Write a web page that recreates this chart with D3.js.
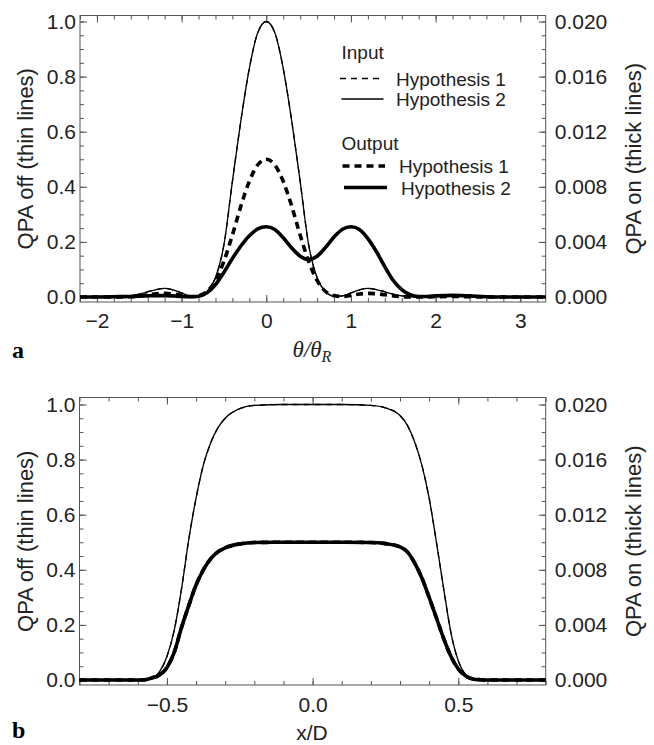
<!DOCTYPE html>
<html>
<head>
<meta charset="utf-8">
<script src="https://cdn.jsdelivr.net/npm/d3@7"></script>
<style>
body { margin: 0; background: #fff; }
text { font-family: "Liberation Sans", Arial, sans-serif; fill: #222; }
</style>
</head>
<body>
<div id="wrapper"></div>
<script>
// panel a : theta / theta_R
const thetaValues = [-2.2,-2.0,-1.8,-1.6,-1.5,-1.4,-1.3,-1.2,-1.1,-1.0,-0.9,-0.8,-0.7,-0.6,-0.5,-0.4,-0.3,-0.2,-0.1,0,
    0.1,0.2,0.3,0.4,0.5,0.6,0.7,0.8,0.9,1.0,1.1,1.2,1.3,1.4,1.5,1.6,1.7,1.8,1.9,2.0,2.2,2.4,2.6,2.8,3.0,3.3];
// QPA off (left axis)
const inputHyp2A = [0,0.001,0.001,0.004,0.010,0.019,0.027,0.031,0.026,0.015,0.004,0.003,0.02,0.07,0.19,0.42,0.64,0.83,0.96,1.0,
    0.96,0.83,0.64,0.42,0.19,0.07,0.02,0.003,0.004,0.015,0.026,0.031,0.027,0.019,0.010,0.004,0.001,0.001,0.002,0.003,0.004,0.003,0.001,0,0,0];
const inputHyp1A = inputHyp2A.slice(); // drawn on top of each other in the figure
// QPA on (right axis)
const outputHyp1A = [0,0,0,0.00002,0.00008,0.00016,0.00024,0.00026,0.00022,0.00012,0.00004,0.0001,0.0004,0.0012,0.0026,0.0045,0.0066,0.0084,0.0096,0.0100,
    0.0096,0.0084,0.0066,0.0045,0.0026,0.0012,0.0004,0.0001,0.00004,0.00012,0.00022,0.00026,0.00024,0.00016,0.00008,0.00002,0,0,0.00001,0.00002,0.00004,0.00002,0,0,0,0];
const outputHyp2A = [0,0,0.00002,0.00004,0.00006,0.00008,0.0001,0.0001,0.00008,0.00004,0.00002,0.00006,0.0003,0.0009,0.0018,0.0028,0.0037,0.00444,0.00494,0.0051,
    0.0049,0.0043,0.00356,0.00296,0.00272,0.00296,0.0036,0.00436,0.00492,0.0051,0.0049,0.00424,0.0033,0.0022,0.0012,0.00054,0.00016,0.00004,0.00004,0.00008,0.00012,0.00008,0.00002,0,0,0];

// panel b : x / D
const xdValues = [-0.8,-0.7,-0.6,-0.575,-0.55,-0.525,-0.5,-0.475,-0.45,-0.425,-0.4,-0.375,-0.35,-0.325,-0.3,-0.25,-0.2,-0.1,0,
    0.1,0.2,0.25,0.3,0.325,0.35,0.375,0.4,0.425,0.45,0.475,0.5,0.525,0.55,0.575,0.6,0.7,0.8];
const inputHyp2B = [0,0,0,0.001,0.006,0.03,0.085,0.18,0.33,0.51,0.66,0.78,0.86,0.915,0.95,0.985,0.997,1.0,1.0,
    1.0,0.997,0.988,0.96,0.925,0.865,0.78,0.66,0.50,0.33,0.17,0.07,0.02,0.005,0.001,0,0,0];
const inputHyp1B = inputHyp2B.slice();
const outputHyp2B = [0,0,0,0.00002,0.00016,0.00036,0.0009,0.002,0.0038,0.0054,0.0069,0.008,0.0088,0.0093,0.0096,0.00988,0.00998,0.01,0.01,
    0.01,0.00998,0.0099,0.00966,0.0093,0.0085,0.0074,0.006,0.0045,0.003,0.0017,0.0008,0.0003,0.00008,0.00002,0,0,0];
const outputHyp1B = outputHyp2B.slice();

const thetaTicks = [-2,-1,0,1,2,3];
const xdTicks = [-0.5,0,0.5];
const leftTicks = [0,0.2,0.4,0.6,0.8,1.0];
const rightTicks = [0,0.004,0.008,0.012,0.016,0.020];
const legendHeads = ["Input","Output"];
const legendNames = ["Hypothesis 1","Hypothesis 2"];

const thin = 1.3, thick = 3.6;
const styles = {
    inH1: {w: thin, dash: "6,5"},
    inH2: {w: thin, dash: null},
    outH1: {w: thick, dash: "7,5"},
    outH2: {w: thick, dash: null}
};

const svg = d3.select("#wrapper")
    .append("svg")
    .attr("width", 654)
    .attr("height", 745);

function drawPanel(p) {
    const g = svg.append("g");
    const x = d3.scaleLinear().domain(p.xDomain).range([p.left, p.right]);
    const yL = d3.scaleLinear().domain([0, 1]).range([p.y0, p.y1]);
    const yR = d3.scaleLinear().domain([0, 0.02]).range([p.y0, p.y1]);

    function styleAxis(a, size) {
        a.select(".domain").remove();
        a.attr("color", "#555").attr("font-size", size)
            .attr("font-family", "'Liberation Sans', Arial, sans-serif");
        a.selectAll(".tick line").attr("stroke-width", 1);
    }

    // minor ticks first
    const minorX = p.xMinor;
    const minorY = d3.range(0, 1.0001, 0.05).map(v => +v.toFixed(2));
    g.append("g").attr("transform", `translate(0,${p.bottom})`)
        .call(d3.axisBottom(x).tickValues(minorX).tickSize(-4).tickSizeOuter(0).tickFormat(""))
        .call(a => styleAxis(a, 21));
    g.append("g").attr("transform", `translate(0,${p.top})`)
        .call(d3.axisTop(x).tickValues(minorX).tickSize(-4).tickSizeOuter(0).tickFormat(""))
        .call(a => styleAxis(a, 21));
    g.append("g").attr("transform", `translate(${p.left},0)`)
        .call(d3.axisLeft(yL).tickValues(minorY).tickSize(-4).tickSizeOuter(0).tickFormat(""))
        .call(a => styleAxis(a, 21));
    g.append("g").attr("transform", `translate(${p.right},0)`)
        .call(d3.axisRight(yL).tickValues(minorY).tickSize(-4).tickSizeOuter(0).tickFormat(""))
        .call(a => styleAxis(a, 21));

    // major ticks + labels
    g.append("g").attr("transform", `translate(0,${p.bottom})`)
        .call(d3.axisBottom(x).tickValues(p.xTicks).tickSize(-7).tickSizeOuter(0).tickPadding(p.xPad).tickFormat(d3.format(p.xFmt)))
        .call(a => styleAxis(a, 21));
    g.append("g").attr("transform", `translate(0,${p.top})`)
        .call(d3.axisTop(x).tickValues(p.xTicks).tickSize(-7).tickSizeOuter(0).tickFormat(""))
        .call(a => styleAxis(a, 21));
    g.append("g").attr("transform", `translate(${p.left},0)`)
        .call(d3.axisLeft(yL).tickValues(leftTicks).tickSize(-7).tickSizeOuter(0).tickPadding(4).tickFormat(d3.format(".1f")))
        .call(a => styleAxis(a, 21));
    g.append("g").attr("transform", `translate(${p.right},0)`)
        .call(d3.axisRight(yR).tickValues(rightTicks).tickSize(-7).tickSizeOuter(0).tickPadding(9).tickFormat(d3.format(".3f")))
        .call(a => styleAxis(a, 21));

    // frame
    g.append("rect")
        .attr("x", p.left).attr("y", p.top)
        .attr("width", p.right - p.left).attr("height", p.bottom - p.top)
        .attr("fill", "none").attr("stroke", "#555").attr("stroke-width", 1);

    // curves
    p.series.forEach(s => {
        const yS = s.axis === "right" ? yR : yL;
        const line = d3.line()
            .x((d, i) => x(p.xs[i]))
            .y(d => yS(d))
            .curve(d3.curveMonotoneX);
        g.append("path")
            .datum(s.values)
            .attr("d", line)
            .attr("fill", "none")
            .attr("stroke", "#000")
            .attr("stroke-width", s.style.w)
            .attr("stroke-dasharray", s.style.dash)
            .attr("stroke-linejoin", "round");
    });

    // axis titles
    const midY = (p.top + p.bottom) / 2;
    g.append("text")
        .attr("transform", `translate(33,${midY}) rotate(-90)`)
        .attr("text-anchor", "middle")
        .style("font-size", "22px")
        .text("QPA off (thin lines)");
    g.append("text")
        .attr("transform", `translate(641,${midY}) rotate(-90)`)
        .attr("text-anchor", "middle")
        .style("font-size", "22px")
        .text("QPA on (thick lines)");

    // panel letter
    g.append("text")
        .attr("x", 12).attr("y", p.letterY)
        .style("font-family", "'Liberation Serif', 'Times New Roman', serif")
        .style("font-weight", "bold")
        .style("font-size", "24px")
        .style("fill", "#000")
        .text(p.letter);

    return {x, yL, yR, g};
}

const a = drawPanel({
    xDomain: [-2.2, 3.3], left: 80, right: 545.7,
    top: 15.5, y1: 21.5, y0: 297, bottom: 302,
    xTicks: thetaTicks, xFmt: "d", xPad: 11,
    xMinor: d3.range(-2.2, 3.31, 0.2).map(v => +v.toFixed(1)),
    xs: thetaValues,
    series: [
        {values: inputHyp1A, axis: "left", style: styles.inH1},
        {values: inputHyp2A, axis: "left", style: styles.inH2},
        {values: outputHyp1A, axis: "right", style: styles.outH1},
        {values: outputHyp2A, axis: "right", style: styles.outH2}
    ],
    letter: "a", letterY: 358
});

const b = drawPanel({
    xDomain: [-0.8, 0.8], left: 79.5, right: 545.7,
    top: 397.5, y1: 404.5, y0: 680, bottom: 685,
    xTicks: xdTicks, xFmt: ".1f", xPad: 12,
    xMinor: d3.range(-0.8, 0.81, 0.1).map(v => +v.toFixed(1)),
    xs: xdValues,
    series: [
        {values: inputHyp1B, axis: "left", style: styles.inH1},
        {values: inputHyp2B, axis: "left", style: styles.inH2},
        {values: outputHyp1B, axis: "right", style: styles.outH1},
        {values: outputHyp2B, axis: "right", style: styles.outH2}
    ],
    letter: "b", letterY: 738
});

// x titles
const thetaLabel = svg.append("text")
    .attr("x", 312).attr("y", 357)
    .attr("text-anchor", "middle")
    .style("font-family", "'Liberation Serif', 'Times New Roman', serif")
    .style("font-style", "italic")
    .style("font-size", "23px");
thetaLabel.append("tspan").text("θ/θ");
thetaLabel.append("tspan").attr("dy", 5).style("font-size", "16px").text("R");

svg.append("text")
    .attr("x", 312).attr("y", 740)
    .attr("text-anchor", "middle")
    .style("font-size", "21px")
    .text("x/D");

// legend (panel a)
const legendRows = [
    {head: legendHeads[0], y: 58.5},
    {name: legendNames[0], style: styles.inH1, lx: 340, lw: 40, tx: 396, y: 78.5},
    {name: legendNames[1], style: styles.inH2, lx: 341.5, lw: 42, tx: 396, y: 99},
    {head: legendHeads[1], y: 150},
    {name: legendNames[0], style: styles.outH1, lx: 342.5, lw: 42.5, tx: 399, y: 166},
    {name: legendNames[1], style: styles.outH2, lx: 344, lw: 43, tx: 401, y: 187.5}
];
const legend = svg.append("g").attr("class", "legend");
legendRows.forEach(r => {
    if (r.head) {
        legend.append("text").attr("x", 341.5).attr("y", r.y)
            .style("font-size", "19px").text(r.head);
        return;
    }
    legend.append("line")
        .attr("x1", r.lx).attr("x2", r.lx + r.lw)
        .attr("y1", r.y).attr("y2", r.y)
        .attr("stroke", "#000")
        .attr("stroke-width", r.style.w)
        .attr("stroke-dasharray", r.style.dash);
    legend.append("text").attr("x", r.tx).attr("y", r.y + 7)
        .style("font-size", "19px").text(r.name);
});
</script>
</body>
</html>
